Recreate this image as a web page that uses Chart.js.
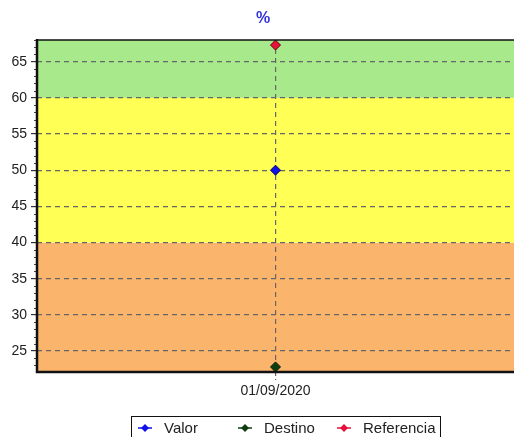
<!DOCTYPE html>
<html>
<head>
<meta charset="utf-8">
<script src="https://cdn.jsdelivr.net/npm/chart.js@4/dist/chart.umd.min.js"></script>
<style>
  html, body { margin: 0; padding: 0; overflow: hidden; background: #fff; }
  #wrap { width: 520px; height: 437px; position: relative; }
</style>
</head>
<body>
<div id="wrap"><canvas id="c" width="520" height="437"></canvas></div>
<script>
// Dates on the horizontal axis
const categories = ['01/09/2020'];

// Series values
const valor = [50];
const destino = [22.8];
const referencia = [67.3];

// Vertical scale: range and labelled ticks
const yRange = [22.1, 68];
const yTicks = [25, 30, 35, 40, 45, 50, 55, 60, 65];

// Coloured zones: lower bound, upper bound, colour
const bandLimits = [[22.1, 40], [40, 60], [60, 68]];
const bandColors = ['#fbb46c', '#ffff55', '#a7e98b'];

const FONT = '"Liberation Sans", Arial, sans-serif';

const zonesPlugin = {
  id: 'zones',
  beforeDraw(chart) {
    const { ctx, chartArea: a, scales: { y } } = chart;
    ctx.save();
    bandLimits.forEach((b, i) => {
      const top = y.getPixelForValue(b[1]);
      const bot = y.getPixelForValue(b[0]);
      ctx.fillStyle = bandColors[i];
      ctx.fillRect(a.left, top, a.right - a.left, bot - top);
    });
    ctx.restore();
  }
};

const framePlugin = {
  id: 'frame',
  afterDatasetsDraw(chart) {
    const { ctx, chartArea: a, scales: { y } } = chart;
    ctx.save();
    // minor ticks on the value axis
    ctx.strokeStyle = '#444';
    ctx.lineWidth = 1;
    for (let v = Math.ceil(yRange[0]); v <= yRange[1]; v++) {
      if (v % 5 === 0) continue;
      const py = Math.round(y.getPixelForValue(v)) + 0.5;
      ctx.beginPath();
      ctx.moveTo(a.left - 3, py);
      ctx.lineTo(a.left, py);
      ctx.stroke();
    }
    // top edge
    ctx.strokeStyle = '#111';
    ctx.lineWidth = 1.5;
    ctx.beginPath();
    ctx.moveTo(a.left, a.top);
    ctx.lineTo(a.right, a.top);
    ctx.stroke();
    // left and bottom axis lines
    ctx.lineWidth = 2.5;
    ctx.beginPath();
    ctx.moveTo(a.left, a.top - 1);
    ctx.lineTo(a.left, a.bottom);
    ctx.lineTo(a.right, a.bottom);
    ctx.stroke();
    ctx.restore();
  },
  afterDraw(chart) {
    const { ctx } = chart;
    ctx.save();
    // title
    ctx.fillStyle = '#3434d8';
    ctx.font = 'bold 16px ' + FONT;
    ctx.textAlign = 'center';
    ctx.textBaseline = 'middle';
    ctx.fillText('%', 263, 19);

    // legend box
    ctx.fillStyle = '#fff';
    ctx.fillRect(131, 416, 309, 30);
    ctx.strokeStyle = '#111';
    ctx.lineWidth = 1;
    ctx.strokeRect(131.5, 416.5, 309, 30);
    const xs = [145, 245, 344];
    ctx.font = '15px ' + FONT;
    ctx.textAlign = 'left';
    chart.data.datasets.forEach((ds, i) => {
      const cx = xs[i], cy = 428;
      ctx.strokeStyle = ds.backgroundColor;
      ctx.lineWidth = 1.5;
      ctx.beginPath();
      ctx.moveTo(cx - 7, cy);
      ctx.lineTo(cx + 7, cy);
      ctx.stroke();
      ctx.fillStyle = ds.backgroundColor;
      ctx.beginPath();
      ctx.moveTo(cx, cy - 4);
      ctx.lineTo(cx + 4, cy);
      ctx.lineTo(cx, cy + 4);
      ctx.lineTo(cx - 4, cy);
      ctx.closePath();
      ctx.fill();
      ctx.fillStyle = '#222';
      ctx.fillText(ds.label, cx + 19, cy + 1);
    });
    ctx.restore();
  }
};

const mk = (label, data, fill, border) => ({
  label, data,
  backgroundColor: fill,
  borderColor: border,
  pointStyle: 'rectRot',
  pointRadius: 5,
  pointBorderWidth: 1,
  pointBackgroundColor: fill,
  pointBorderColor: border,
  showLine: false
});

new Chart(document.getElementById('c'), {
  type: 'line',
  data: {
    labels: categories,
    datasets: [
      mk('Valor', valor, '#1010e8', '#000060'),
      mk('Destino', destino, '#0e3d10', '#062006'),
      mk('Referencia', referencia, '#e8103a', '#600010')
    ]
  },
  options: {
    responsive: false,
    animation: false,
    layout: { padding: { top: 40, right: 3, left: 0, bottom: 0 } },
    plugins: { legend: { display: false }, title: { display: false }, tooltip: { enabled: false } },
    scales: {
      x: {
        type: 'category',
        offset: true,
        border: { display: false, dash: [5, 4] },
        grid: {
          offset: false,
          color: '#666',
          tickColor: '#666',
          tickLength: 8,
          lineWidth: 1.2,
          tickBorderDash: [4, 3]
        },
        ticks: { color: '#222', font: { family: FONT, size: 14 }, padding: 3, maxRotation: 0 },
        afterFit(s) { s.height = 65; }
      },
      y: {
        min: yRange[0],
        max: yRange[1],
        border: { display: false, dash: [5, 4] },
        grid: {
          color: '#666',
          tickColor: '#333',
          tickLength: 6,
          lineWidth: 1.2
        },
        afterBuildTicks(s) { s.ticks = yTicks.map(v => ({ value: v })); },
        ticks: { color: '#222', font: { family: FONT, size: 14 }, padding: 4 },
        afterFit(s) { s.width = 37; }
      }
    }
  },
  plugins: [zonesPlugin, framePlugin]
});
</script>
</body>
</html>
